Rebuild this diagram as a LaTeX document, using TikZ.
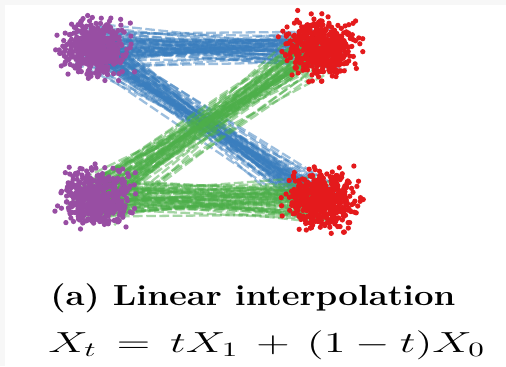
\documentclass[tikz,border=0pt]{standalone}
\usepackage{fix-cm}
\usetikzlibrary{calc}

\definecolor{clusterpurple}{RGB}{152,78,163}
\definecolor{clusterred}{RGB}{228,26,28}
\definecolor{flowblue}{RGB}{58,126,190}
\definecolor{flowgreen}{RGB}{77,175,74}

\tikzset{
  flowline/.style={line width=1.3pt, dash pattern=on 5.5pt off 2pt, opacity=0.5},
  blueflow/.style={flowline, flowblue},
  greenflow/.style={flowline, flowgreen},
  captiontext/.style={anchor=base west, inner sep=0pt, font=\fontsize{16.5}{20}\selectfont}
}

% scatter of points round a named coordinate
\newcommand{\drawcloud}[2]{%
  \foreach \k in {1,...,520}{
    \pgfmathsetmacro\dx{15.5*(rand+rand+rand)}
    \pgfmathsetmacro\dy{13*(rand+rand+rand)}
    \fill[#2] ($(#1)+(\dx,\dy)$) circle[radius=1.5pt];
  }}

% straight paths between two clouds
\newcommand{\drawflow}[4]{%
  \foreach \k in {1,...,#4}{
    \pgfmathsetmacro\ax{11*(rand+rand+rand)}
    \pgfmathsetmacro\ay{10*(rand+rand+rand)}
    \pgfmathsetmacro\bx{11*(rand+rand+rand)}
    \pgfmathsetmacro\by{10*(rand+rand+rand)}
    \draw[#3] ($(#1)+(\ax,\ay)$) -- ($(#2)+(\bx,\by)$);
  }}

\begin{document}
\begin{tikzpicture}[x=0.02cm, y=-0.02cm]
  \pgfmathsetseed{42}
  \useasboundingbox (0,0) rectangle (506,366);
  \fill[gray!6] (0,0) rectangle (506,366);
  \fill[white] (5,5) rectangle (506,366);

  \coordinate (srcTop) at (95,48);
  \coordinate (srcBot) at (97,198);
  \coordinate (tgtTop) at (320,48);
  \coordinate (tgtBot) at (322,200);

  % Paths
  \drawflow{srcTop}{tgtTop}{blueflow}{60}
  \drawflow{srcTop}{tgtBot}{blueflow}{60}
  \drawflow{srcBot}{tgtBot}{greenflow}{60}
  \drawflow{srcBot}{tgtTop}{greenflow}{60}

  % Clouds
  \drawcloud{srcTop}{clusterpurple}
  \drawcloud{srcBot}{clusterpurple}
  \drawcloud{tgtTop}{clusterred}
  \drawcloud{tgtBot}{clusterred}

  % Caption
  \node[captiontext, font=\fontsize{16.5}{20}\selectfont\bfseries] (caption) at (50,305)
    {\scalebox{1.2}[1]{(a) Linear interpolation}};
  \node[captiontext] (formula) at (48,352)
    {\scalebox{1.53}[1]{$X_t \,=\, tX_1 \,+\, (1-t)X_0$}};
\end{tikzpicture}
\end{document}
